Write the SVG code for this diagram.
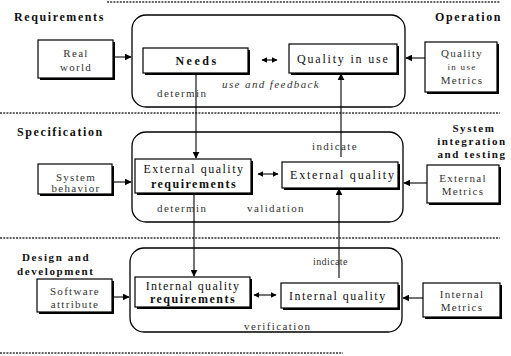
<svg xmlns="http://www.w3.org/2000/svg" width="511" height="356" viewBox="0 0 511 356">
<defs>
<marker id="ah" viewBox="0 0 10 10" refX="9" refY="5" markerWidth="7" markerHeight="7" markerUnits="userSpaceOnUse" orient="auto-start-reverse"><path d="M0,0 L10,5 L0,10 z" fill="#000"/></marker>
<marker id="sm" viewBox="0 0 10 10" refX="9" refY="5" markerWidth="6" markerHeight="6" markerUnits="userSpaceOnUse" orient="auto-start-reverse"><path d="M0,0 L10,5 L0,10 z" fill="#000"/></marker>
</defs>
<style>
.bg{fill:#fff}
.dash{stroke:#333;stroke-width:1.5;stroke-dasharray:2 1.2;fill:none}
.cont{fill:none;stroke:#000;stroke-width:1.3}
.box{fill:#fff;stroke:#000;stroke-width:1.2}
.sh{fill:#000;stroke:none}
.ln{stroke:#000;stroke-width:1.1;fill:none}
text{font-family:"Liberation Serif","DejaVu Serif",serif;fill:#111}
.hd{font-size:12px;font-weight:bold;letter-spacing:1.6px}
.hs{font-size:11px;font-weight:bold;letter-spacing:1.6px}
.bt{font-size:12px;font-weight:bold;letter-spacing:1.5px;text-anchor:middle}
.br{font-size:12px;letter-spacing:1.8px}
.st{font-size:11px;letter-spacing:1.3px;text-anchor:middle;fill:#333}
.lb{font-size:11px;letter-spacing:1.4px;fill:#333}
</style>
<rect class="bg" width="511" height="356"/>
<g id="separators">
<line class="dash" x1="107" y1="2" x2="500" y2="2"/>
<line class="dash" x1="0" y1="113" x2="500" y2="113"/>
<line class="dash" x1="0" y1="238" x2="500" y2="238"/>
<line class="dash" x1="0" y1="353" x2="343" y2="353"/>
</g>
<g id="headings">
<text class="hd" x="14" y="21">Requirements</text>
<text class="hd" x="435" y="21">Operation</text>
<text class="hd" x="17" y="136">Specification</text>
<text class="hs" x="474" y="132" text-anchor="middle">System</text>
<text class="hs" x="472" y="145" text-anchor="middle">integration</text>
<text class="hs" x="472" y="158" text-anchor="middle">and testing</text>
<text class="hs" x="22" y="261">Design and</text>
<text class="hs" x="17" y="275">development</text>
</g>
<g id="containers">
<rect class="cont" x="132" y="15" width="273" height="92" rx="14"/>
<rect class="cont" x="132" y="132" width="271" height="90" rx="14"/>
<rect class="cont" x="130" y="248" width="272" height="84" rx="14"/>
</g>
<g id="connectors">
<line class="ln" x1="113" y1="57" x2="131" y2="57" marker-end="url(#ah)"/>
<line class="ln" x1="425" y1="58" x2="406" y2="58" marker-end="url(#ah)"/>
<line class="ln" x1="262" y1="60" x2="277" y2="60" marker-start="url(#sm)" marker-end="url(#sm)"/>
<line class="ln" x1="196" y1="73" x2="196" y2="158" marker-end="url(#ah)"/>
<line class="ln" x1="341" y1="157" x2="341" y2="74" marker-end="url(#ah)"/>
<line class="ln" x1="112" y1="182" x2="131" y2="182" marker-end="url(#ah)"/>
<line class="ln" x1="427" y1="183" x2="404" y2="183" marker-end="url(#ah)"/>
<line class="ln" x1="258" y1="174" x2="278" y2="174" marker-start="url(#sm)" marker-end="url(#sm)"/>
<line class="ln" x1="194" y1="194" x2="194" y2="276" marker-end="url(#ah)"/>
<line class="ln" x1="339" y1="278" x2="339" y2="189" marker-end="url(#ah)"/>
<line class="ln" x1="112" y1="297" x2="129" y2="297" marker-end="url(#ah)"/>
<line class="ln" x1="423" y1="298" x2="403" y2="298" marker-end="url(#ah)"/>
<line class="ln" x1="254" y1="295" x2="276" y2="295" marker-start="url(#sm)" marker-end="url(#sm)"/>
</g>
<g id="labels">
<text class="lb" x="222" y="88" font-style="italic">use and feedback</text>
<text class="lb" x="157" y="97">determin</text>
<text class="lb" x="312" y="150">indicate</text>
<text class="lb" x="157" y="212">determin</text>
<text class="lb" x="247" y="212">validation</text>
<text class="lb" x="313" y="265" style="font-size:10px;letter-spacing:0.4px">indicate</text>
<text class="lb" x="244" y="330">verification</text>
</g>
<g id="real-world">
<rect class="sh" x="40" y="42" width="75" height="38"/>
<rect class="box" x="38" y="40" width="75" height="38"/>
<text class="st" x="76" y="57">Real</text>
<text class="st" x="76" y="71">world</text>
</g>
<g id="needs">
<rect class="sh" x="145" y="50" width="105" height="25"/>
<rect class="box" x="143" y="48" width="105" height="25"/>
<text class="bt" x="197" y="65" style="letter-spacing:2.5px">Needs</text>
</g>
<g id="quality-in-use">
<rect class="sh" x="291" y="46" width="108" height="29"/>
<rect class="box" x="289" y="44" width="108" height="29"/>
<text class="br" x="297" y="63">Quality in use</text>
</g>
<g id="quality-in-use-metrics">
<rect class="sh" x="427" y="44" width="72" height="50"/>
<rect class="box" x="425" y="42" width="72" height="50"/>
<text class="st" x="462" y="57">Quality</text>
<text class="st" x="462" y="70" style="font-size:9px">in use</text>
<text class="st" x="462" y="84">Metrics</text>
</g>
<g id="system-behavior">
<rect class="sh" x="40" y="166" width="74" height="30"/>
<rect class="box" x="38" y="164" width="74" height="30"/>
<text class="st" x="76" y="181">System</text>
<text class="st" x="76" y="192">behavior</text>
</g>
<g id="external-quality-requirements">
<rect class="sh" x="137" y="161" width="116" height="34"/>
<rect class="box" x="135" y="159" width="116" height="34"/>
<text class="bt" x="194" y="173" style="font-weight:normal;letter-spacing:1.5px">External quality</text>
<text class="bt" x="194" y="188">requirements</text>
</g>
<g id="external-quality">
<rect class="sh" x="284" y="164" width="116" height="26"/>
<rect class="box" x="282" y="162" width="116" height="26"/>
<text class="br" x="290" y="179">External quality</text>
</g>
<g id="external-metrics">
<rect class="sh" x="429" y="167" width="72" height="38"/>
<rect class="box" x="427" y="165" width="72" height="38"/>
<text class="st" x="463" y="182">External</text>
<text class="st" x="463" y="195">Metrics</text>
</g>
<g id="software-attribute">
<rect class="sh" x="39" y="281" width="75" height="33"/>
<rect class="box" x="37" y="279" width="75" height="33"/>
<text class="st" x="75" y="295">Software</text>
<text class="st" x="75" y="308">attribute</text>
</g>
<g id="internal-quality-requirements">
<rect class="sh" x="137" y="279" width="115" height="30"/>
<rect class="box" x="135" y="277" width="115" height="30"/>
<text class="bt" x="193" y="290" style="font-weight:normal;letter-spacing:1.3px">Internal quality</text>
<text class="bt" x="193" y="303">requirements</text>
</g>
<g id="internal-quality">
<rect class="sh" x="283" y="285" width="117" height="25"/>
<rect class="box" x="281" y="283" width="117" height="25"/>
<text class="br" x="289" y="300" style="letter-spacing:1.5px">Internal quality</text>
</g>
<g id="internal-metrics">
<rect class="sh" x="425" y="285" width="77" height="34"/>
<rect class="box" x="423" y="283" width="77" height="34"/>
<text class="st" x="462" y="298">Internal</text>
<text class="st" x="462" y="311">Metrics</text>
</g>
</svg>
